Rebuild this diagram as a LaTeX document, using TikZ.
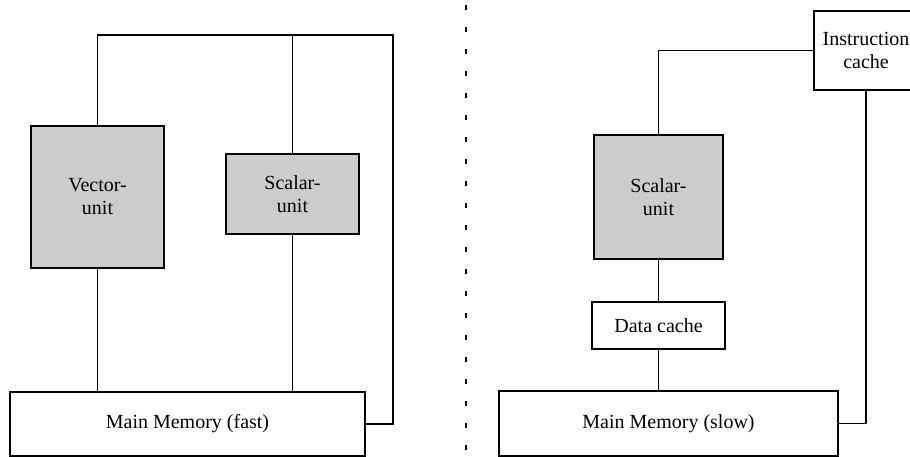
\documentclass[tikz,border=0pt]{standalone}
\usepackage{fontspec}
\setmainfont{Liberation Serif}
\begin{document}
\begin{tikzpicture}[
        x=0.5pt, y=-0.5pt, line width=0.6pt,
        font=\fontsize{10}{11.5}\selectfont,
        unit/.style={draw, fill=black!20, align=center, inner sep=0pt},
        box/.style={draw, fill=white, align=center, inner sep=0pt},
    ]
	\useasboundingbox (0,0) rectangle (910,456);

	% fast memory machine
	\node[unit, minimum width=66.5pt, minimum height=71pt] (vec) at (97.5,197) {Vector-\\unit};
	\node[unit, minimum width=66.5pt, minimum height=40pt] (scal) at (292.5,194) {Scalar-\\unit};
	\node[box, minimum width=177.5pt, minimum height=32pt] (mem) at (187.5,424) {Main Memory (fast)};
	\coordinate (tr) at (393,35);

	\draw (vec.north) |- (tr) |- (mem.east);
	\draw (scal.north) -- (scal.north |- tr);
	\draw (vec.south) -- (vec.south |- mem.north);
	\draw (scal.south) -- (scal.south |- mem.north);

	% divider
	\draw[line width=0.8pt, dash pattern=on 2.5pt off 8.5pt] (466,5) -- (466,456);

	% slow memory machine with caches
	\node[box, minimum width=52pt, minimum height=39.5pt] (icache) at (866,50.5) {Instruction\\cache};
	\node[unit, minimum width=64.5pt, minimum height=62pt] (scal2) at (658.5,197) {Scalar-\\unit};
	\node[box, minimum width=66.5pt, minimum height=23.5pt] (dcache) at (658.5,325.5) {Data cache};
	\node[box, minimum width=169.5pt, minimum height=32.5pt] (mem2) at (668.5,423.5) {Main Memory (slow)};

	\draw (icache.west) -| (scal2.north);
	\draw (scal2.south) -- (dcache.north);
	\draw (dcache.south) -- (dcache.south |- mem2.north);
	\draw (icache.south) |- (mem2.east);

    \end{tikzpicture}
\end{document}
